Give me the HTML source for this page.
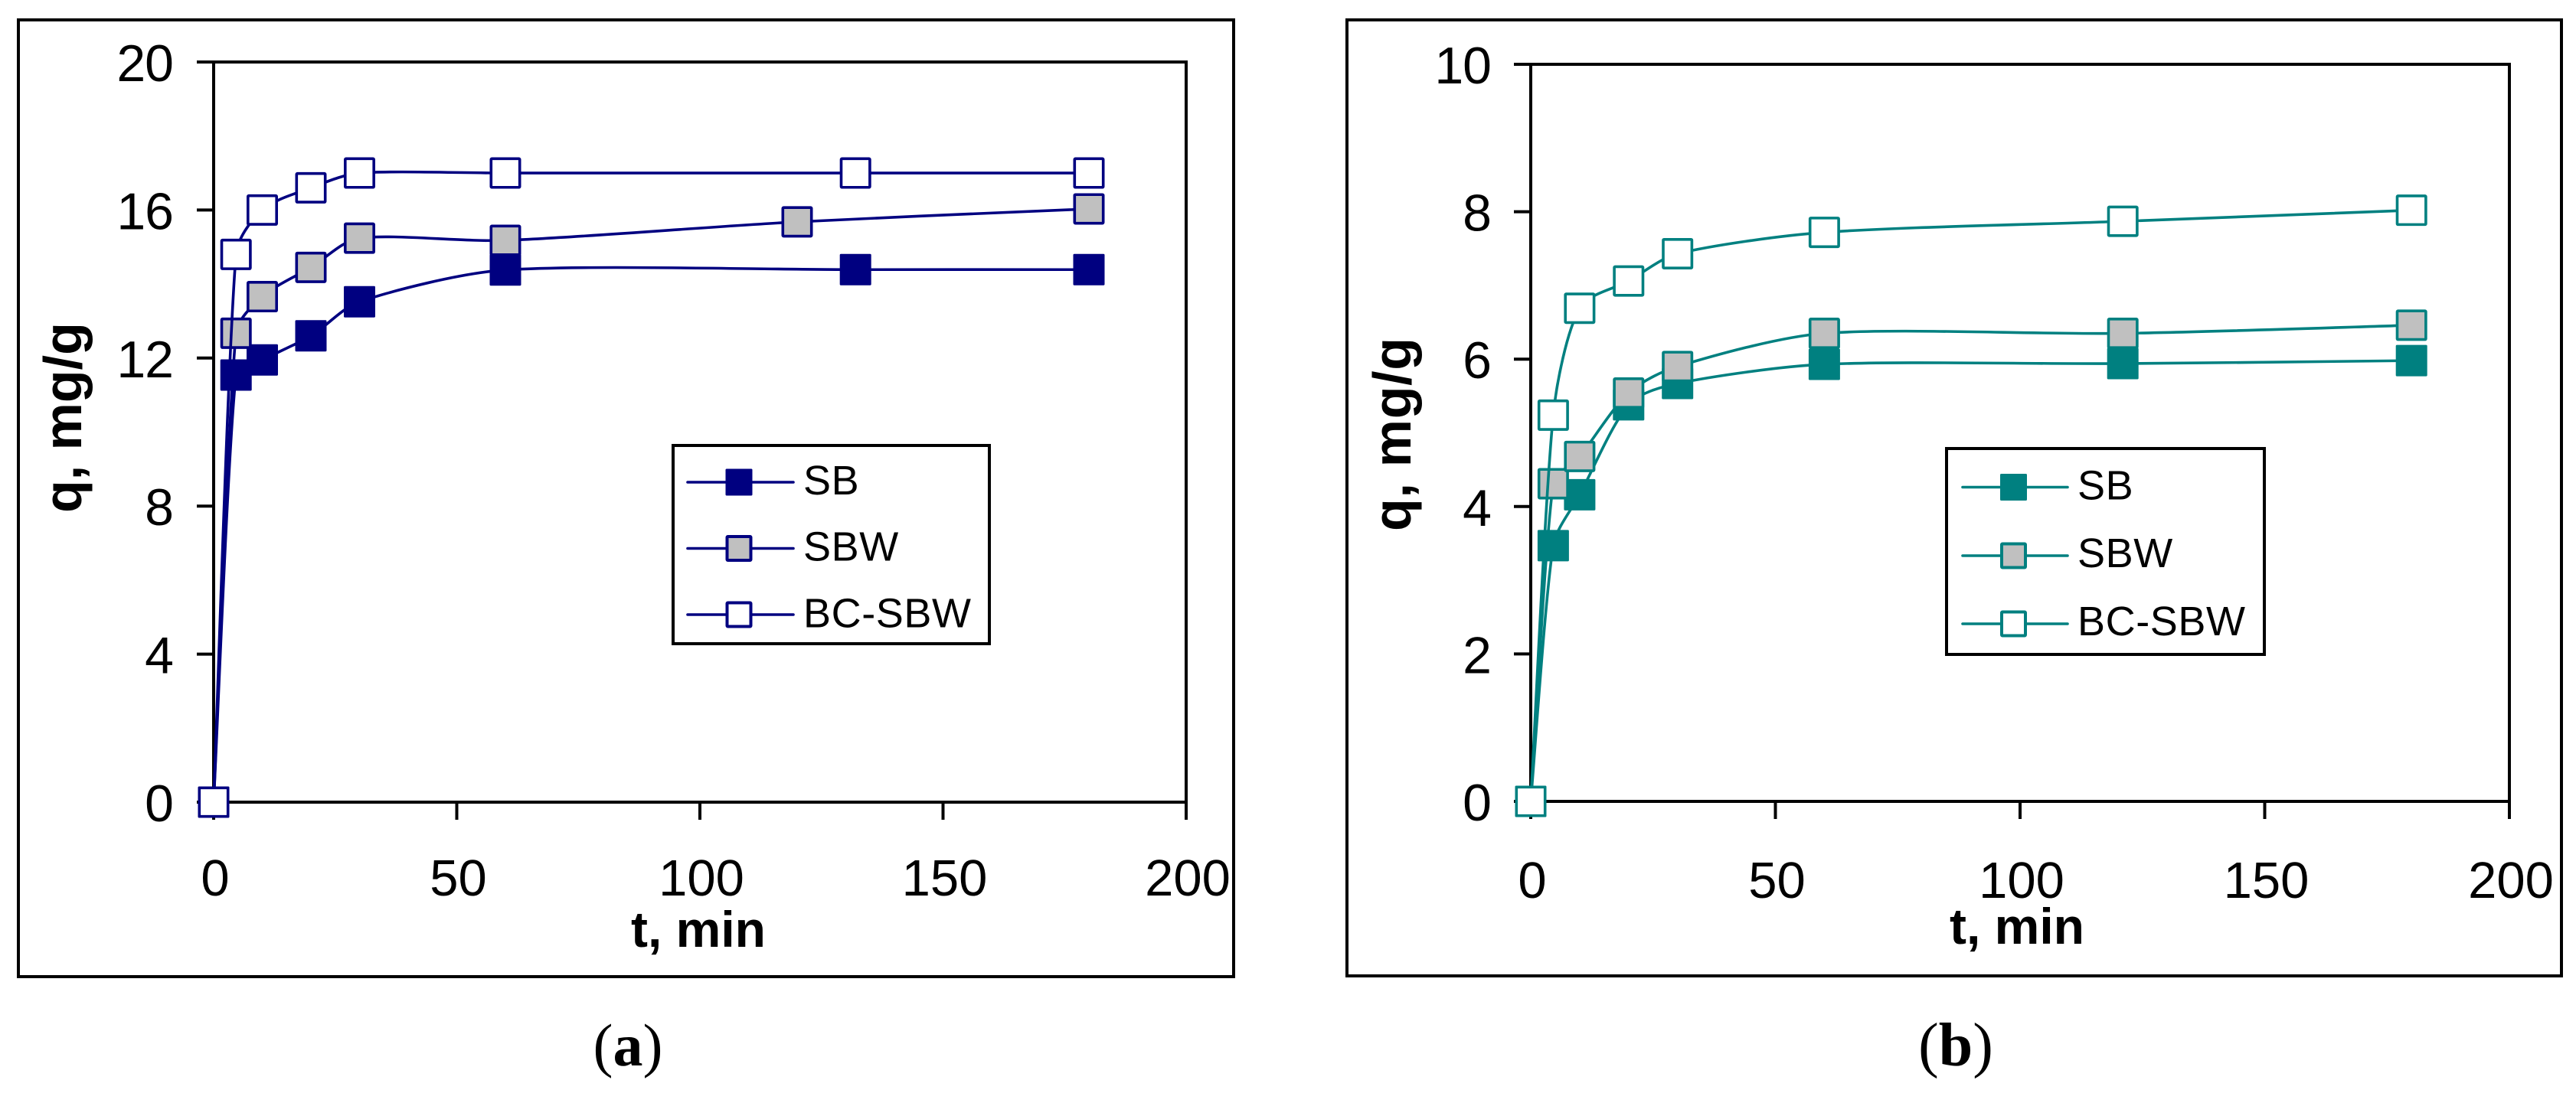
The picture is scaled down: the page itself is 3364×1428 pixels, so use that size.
<!DOCTYPE html>
<html lang="en">
<head>
<meta charset="utf-8">
<title>Adsorption kinetics charts</title>
<style>
html,body{margin:0;padding:0;background:#fff;width:3364px;height:1428px;overflow:hidden}
svg{display:block}
text{fill:#000}
.num,.leg,.ttl{font-family:"Liberation Sans",Arial,sans-serif}
.ttl{font-weight:700}
.cap{font-family:"Liberation Serif","Times New Roman",serif}
</style>
</head>
<body>
<svg id="figure" xmlns="http://www.w3.org/2000/svg" width="3364" height="1428" viewBox="0 0 3364 1428">
  <rect x="0" y="0" width="3364" height="1428" fill="#ffffff"/>
  <text class="cap" x="820" y="1392" font-size="78" text-anchor="middle">(<tspan font-weight="700">a</tspan>)</text>
  <text class="cap" x="2554" y="1392" font-size="80" text-anchor="middle">(<tspan font-weight="700">b</tspan>)</text>
</svg>
<script>
// Chart (a) values
const timesA_SB = [0, 4.6, 10, 20, 30, 60, 132, 180];
const timesA_SBW = [0, 4.6, 10, 20, 30, 60, 120, 180];
const timesA_BC = [0, 4.6, 10, 20, 30, 60, 132, 180];
const valuesA_SB = [0, 11.54, 11.95, 12.6, 13.52, 14.38, 14.39, 14.39];
const valuesA_SBW = [0, 12.67, 13.66, 14.45, 15.24, 15.18, 15.68, 16.03];
const valuesA_BC = [0, 14.8, 16.0, 16.6, 17.0, 17.0, 17.0, 17.0];
const yTicksA = [0, 4, 8, 12, 16, 20];

// Chart (b) values
const timesB = [0, 4.6, 10, 20, 30, 60, 121, 180];
const valuesB_SB = [0, 3.47, 4.16, 5.38, 5.67, 5.93, 5.94, 5.98];
const valuesB_SBW = [0, 4.31, 4.68, 5.54, 5.9, 6.35, 6.35, 6.46];
const valuesB_BC = [0, 5.24, 6.69, 7.06, 7.43, 7.72, 7.87, 8.02];
const yTicksB = [0, 2, 4, 6, 8, 10];

// Shared values and labels
const xTicks = [0, 50, 100, 150, 200];
const seriesNames = ["SB", "SBW", "BC-SBW"];

const NS = "http://www.w3.org/2000/svg";
const root = document.getElementById("figure");

function make(parent, tag, attrs, txt) {
  const el = document.createElementNS(NS, tag);
  for (const k in attrs) el.setAttribute(k, attrs[k]);
  if (txt !== undefined) el.textContent = txt;
  parent.appendChild(el);
  return el;
}

function handle(dx, dy, segLen) {
  const len = Math.hypot(dx, dy) / 6;
  if (len === 0) return [0, 0];
  const scale = Math.min(len, segLen * 0.3) / len / 6;
  return [dx * scale, dy * scale];
}

function smoothPath(pts) {
  let d = "M" + pts[0][0] + " " + pts[0][1];
  for (let i = 0; i < pts.length - 1; i++) {
    const p0 = pts[Math.max(i - 1, 0)];
    const p1 = pts[i];
    const p2 = pts[i + 1];
    const p3 = pts[Math.min(i + 2, pts.length - 1)];
    const segLen = Math.hypot(p2[0] - p1[0], p2[1] - p1[1]);
    const h1 = handle(p2[0] - p0[0], p2[1] - p0[1], segLen);
    const h2 = handle(p3[0] - p1[0], p3[1] - p1[1], segLen);
    d += " C" + (p1[0] + h1[0]) + " " + (p1[1] + h1[1]) + " " + (p2[0] - h2[0]) + " " + (p2[1] - h2[1]) + " " + p2[0] + " " + p2[1];
  }
  return d;
}

function drawMarker(parent, cx, cy, size, kind, color, sw) {
  const fill = kind === 0 ? color : (kind === 1 ? "#c0c0c0" : "#ffffff");
  return make(parent, "rect", {
    x: cx - size / 2 + sw / 2,
    y: cy - size / 2 + sw / 2,
    width: size - sw,
    height: size - sw,
    rx: 1,
    fill: fill,
    stroke: color,
    "stroke-width": sw
  });
}

function drawChart(c) {
  const g = make(root, "g", {});
  
  

  const frame = make(g, "rect", { x: c.frame[0], y: c.frame[1], width: c.frame[2] - c.frame[0], height: c.frame[3] - c.frame[1], fill: "#fff", stroke: "#000", "stroke-width": 4 });
  
  

  const xScale = t => c.left + (t - xTicks[0]) / (xTicks[xTicks.length - 1] - xTicks[0]) * (c.right - c.left);
  const yMax = c.yTicks[c.yTicks.length - 1];
  const yScale = q => c.bottom - q / yMax * (c.bottom - c.top);

  const plot = make(g, "rect", { x: c.left, y: c.top, width: c.right - c.left, height: c.bottom - c.top, fill: "#fff", stroke: "#000", "stroke-width": 4 });
  
  

  c.yTicks.forEach(v => {
    const y = yScale(v);
    const tick = make(g, "line", { x1: c.left - 22, x2: c.left, y1: y, y2: y, stroke: "#000", "stroke-width": 4 });
    
    
    const lab = make(g, "text", { class: "num", x: c.yLabelX, y: y + 25, "font-size": 68, "letter-spacing": -1, "text-anchor": "end" }, String(v));
    
    
  });

  xTicks.forEach(v => {
    const x = xScale(v);
    const tick = make(g, "line", { x1: x, x2: x, y1: c.bottom, y2: c.bottom + 23, stroke: "#000", "stroke-width": 4 });
    
    
    const lab = make(g, "text", { class: "num", x: x + 2, y: c.xLabelY, "font-size": 67, "text-anchor": "middle" }, String(v));
    
    
  });

  const xt = make(g, "text", { class: "ttl", x: c.xTitle[0], y: c.xTitle[1], "font-size": 66 }, "t, min");
  
  

  const yt = make(g, "text", { class: "ttl", "font-size": 70, "letter-spacing": c.yTitleSpacing, transform: "translate(" + c.yTitle[0] + " " + c.yTitle[1] + ") rotate(-90)" }, "q, mg/g");
  
  

  c.series.forEach((s, si) => {
    const sg = make(g, "g", {});
    
    
    const pts = s.values.map((q, i) => [xScale(s.times[i]), yScale(q)]);
    const line = make(sg, "path", { d: smoothPath(pts), fill: "none", stroke: c.color, "stroke-width": 3.6 });
    
    
    pts.forEach(p => {
      const m = drawMarker(sg, p[0], p[1], 41, si, c.color, si === 0 ? 1 : 3.6);
      
      
    });
  });

  const lg = make(g, "g", {});
  
  
  const box = make(lg, "rect", { x: c.legend.x0, y: c.legend.y0, width: c.legend.x1 - c.legend.x0, height: c.legend.y1 - c.legend.y0, fill: "#fff", stroke: "#000", "stroke-width": 4 });
  
  
  seriesNames.forEach((n, i) => {
    const e = make(lg, "g", {});
    
    
    const y = c.legend.rows[i];
    make(e, "line", { x1: c.legend.lx0, x2: c.legend.lx1, y1: y, y2: y, stroke: c.color, "stroke-width": 3.6, "stroke-linecap": "round" });
    drawMarker(e, c.legend.mx, y, 35, i, c.color, i === 0 ? 1 : 4);
    make(e, "text", { class: "leg", x: c.legend.tx, y: c.legend.base[i], "font-size": 54, "letter-spacing": 0.6 }, n);
  });
}

drawChart({
  id: "a", color: "#000080",
  frame: [24, 26, 1611, 1276],
  left: 279, right: 1549, top: 81, bottom: 1048,
  yTicks: yTicksA,
  yLabelX: 226, xLabelY: 1170,
  xTitle: [824, 1237], yTitle: [106, 670], yTitleSpacing: 0,
  series: [
    { times: timesA_SB, values: valuesA_SB },
    { times: timesA_SBW, values: valuesA_SBW },
    { times: timesA_BC, values: valuesA_BC }
  ],
  legend: { x0: 879, y0: 582, x1: 1292, y1: 841, lx0: 898, lx1: 1036, mx: 965, tx: 1049, rows: [630, 716.5, 803], base: [646, 732.5, 819.5] }
});

drawChart({
  id: "b", color: "#008080",
  frame: [1759, 26, 3345, 1275],
  left: 1999, right: 3277, top: 84, bottom: 1047,
  yTicks: yTicksB,
  yLabelX: 1947, xLabelY: 1173,
  xTitle: [2546, 1233], yTitle: [1842, 694], yTitleSpacing: 0.7,
  series: [
    { times: timesB, values: valuesB_SB },
    { times: timesB, values: valuesB_SBW },
    { times: timesB, values: valuesB_BC }
  ],
  legend: { x0: 2542, y0: 586, x1: 2957, y1: 855, lx0: 2563, lx1: 2700, mx: 2629.5, tx: 2713, rows: [636.5, 726, 815], base: [652.5, 741, 830] }
});
</script>
</body>
</html>
